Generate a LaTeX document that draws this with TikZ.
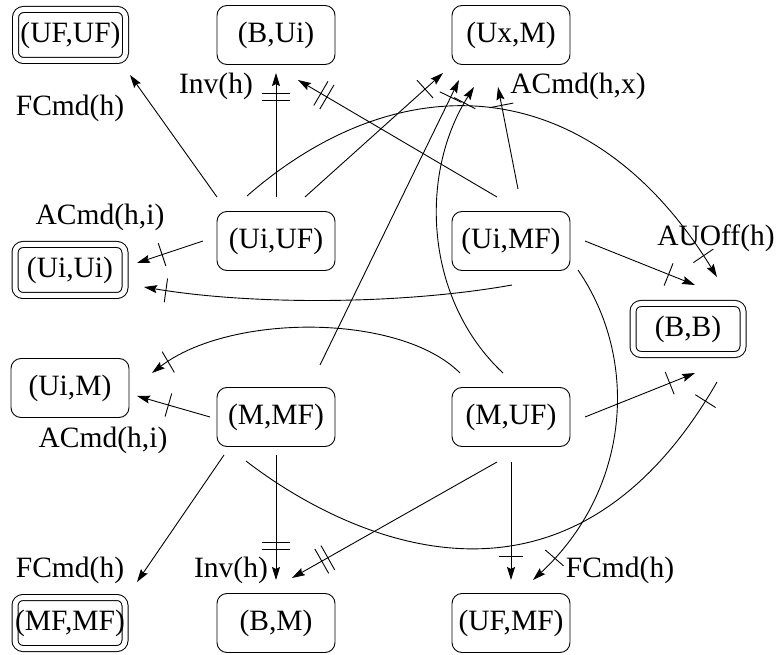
\documentclass[tikz,border=0pt]{standalone}
\usepackage{fontspec}
\setmainfont{Liberation Serif}
\usetikzlibrary{arrows.meta,decorations.markings}
\tikzset{
  state/.style={draw, rounded corners=10pt, minimum width=118pt, minimum height=59pt, inner sep=0pt, line width=0.9pt},
  final/.style={draw, double, double distance=5pt, rounded corners=8pt, minimum width=110pt, minimum height=51pt, inner sep=0pt, line width=1pt},
  lbl/.style={inner sep=0pt},
  conn/.style={line width=0.9pt, -{Stealth[length=13pt,width=8pt,inset=2pt]}},
  noarrow/.style={line width=0.9pt},
  onetick/.style={postaction={decorate,decoration={markings,mark=at position #1 with {\draw[-,line width=0.9pt] (0,-12pt) -- (0,12pt);}}}},
  twotick/.style={postaction={decorate,decoration={markings,mark=at position #1 with {\draw[-,line width=0.9pt] (-3.5pt,-14pt) -- (-3.5pt,14pt) (3.5pt,-14pt) -- (3.5pt,14pt);}}}},
}
\begin{document}
\begin{tikzpicture}[x=1pt,y=-1pt, every node/.style={font=\fontsize{29.5pt}{33pt}\selectfont}]
\path[use as bounding box] (0,0) rectangle (777,655);

% states
\node[final] (ufuf) at (70.5,35) {(UF,UF)};
\node[state] (bui)  at (276,35)  {(B,Ui)};
\node[state] (uxm)  at (511,35)  {(Ux,M)};
\node[state] (uiuf) at (276,241) {(Ui,UF)};
\node[state] (uimf) at (511,241) {(Ui,MF)};
\node[final] (uiui) at (70,270)  {(Ui,Ui)};
\node[final] (bb)   at (688,329) {(B,B)};
\node[state] (uim)  at (70,388)  {(Ui,M)};
\node[state] (mmf)  at (276,417) {(M,MF)};
\node[state] (muf)  at (511,417) {(M,UF)};
\node[final] (mfmf) at (70,623)  {(MF,MF)};
\node[state] (bm)   at (276,623) {(B,M)};
\node[state] (ufmf) at (511,623) {(UF,MF)};

% transitions out of (Ui,UF)
\draw[conn] ([shift={(-59,-44)}]uiuf.center) -- ([shift={(59.5,40)}]ufuf.center);
\draw[conn,twotick=0.81] ([shift={(0,-44)}]uiuf.center) -- ([shift={(0,38)}]bui.center);
\draw[conn,onetick=0.87] ([shift={(29,-44)}]uiuf.center) -- ([shift={(-68,38)}]uxm.center);
\draw[conn,onetick=0.955] ([shift={(-29,-45)}]uiuf.center) .. controls +(153,-134) and +(-127,-207) .. ([shift={(29,-52)}]bb.center);
\draw[conn,onetick=0.62] ([shift={(-73,0)}]uiuf.center) -- ([shift={(67,-7)}]uiui.center);

% transitions out of (Ui,MF)
\draw[conn,twotick=0.87] ([shift={(-14,-44)}]uimf.center) -- ([shift={(22,45)}]bui.center);
\draw[conn,onetick=0.82] ([shift={(7,-52)}]uimf.center) -- ([shift={(-13,52)}]uxm.center);
\draw[conn,onetick=0.76] ([shift={(74,0)}]uimf.center) -- ([shift={(7,-44)}]bb.center);
\draw[conn,onetick=0.94] ([shift={(1,44)}]uimf.center) .. controls +(-112,20) and +(106,18) .. ([shift={(74,17)}]uiui.center);
\draw[conn,onetick=0.91] ([shift={(67,29)}]uimf.center) .. controls +(62,90) and +(97,-90) .. ([shift={(22,-43)}]ufmf.center);

% transitions out of (M,UF)
\draw[conn,onetick=0.77] ([shift={(74,0)}]muf.center) -- ([shift={(7,44)}]bb.center);
\draw[conn,onetick=0.8] ([shift={(0,45)}]muf.center) -- ([shift={(0,-43)}]ufmf.center);
\draw[conn,twotick=0.84] ([shift={(-14,45)}]muf.center) -- ([shift={(16,-45)}]bm.center);
\draw[conn,onetick=0.94] ([shift={(-8,-44)}]muf.center) .. controls +(-78,-73) and +(-56,88) .. ([shift={(-37,52)}]uxm.center);
\draw[conn,onetick=0.94] ([shift={(-51,-44)}]muf.center) .. controls +(-60,-60) and +(78,-60) .. ([shift={(82,-15)}]uim.center);

% transitions out of (M,MF)
\draw[conn,onetick=0.57] ([shift={(-66,0)}]mmf.center) -- ([shift={(67,8)}]uim.center);
\draw[conn,onetick=0.94] ([shift={(44,-52)}]mmf.center) -- ([shift={(-52,45)}]uxm.center);
\draw[conn] ([shift={(-52,38)}]mmf.center) -- ([shift={(67,-41)}]mfmf.center);
\draw[conn,twotick=0.73] ([shift={(0,38)}]mmf.center) -- ([shift={(0,-43)}]bm.center);
\draw[noarrow,onetick=0.96] ([shift={(-30,44)}]mmf.center) .. controls +(76,59) and +(-160,278) .. ([shift={(29,53)}]bb.center);

% event labels
\node[lbl] (l1) at (70,108.5) {FCmd(h)};
\node[lbl] (l2) at (216,86)   {Inv(h)};
\node[lbl] (l3) at (578,86)   {ACmd(h,x)};
\node[lbl] (l4) at (100,217)  {ACmd(h,i)};
\node[lbl] (l5) at (716,238.5){AUOff(h)};
\node[lbl] (l6) at (103,440)  {ACmd(h,i)};
\node[lbl] (l7) at (70,570)   {FCmd(h)};
\node[lbl] (l8) at (231,570)  {Inv(h)};
\node[lbl] (l9) at (620,570)  {FCmd(h)};
\end{tikzpicture}
\end{document}
